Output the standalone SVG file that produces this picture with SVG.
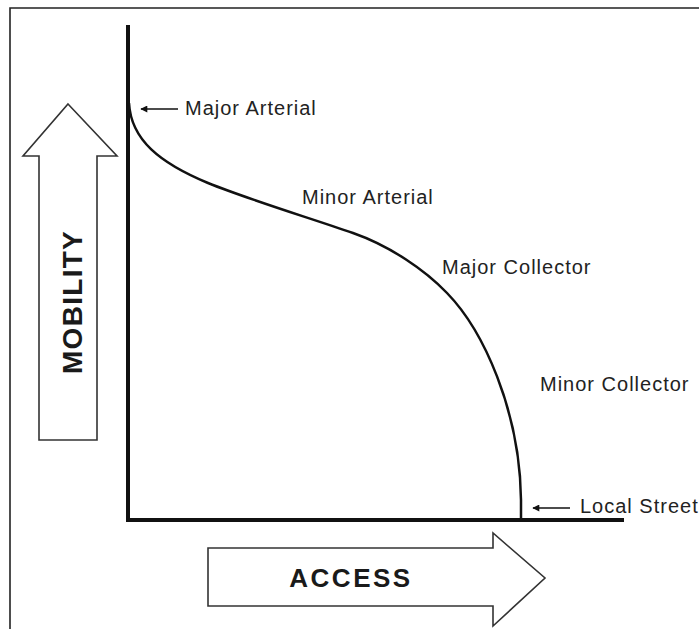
<svg xmlns="http://www.w3.org/2000/svg" width="699" height="629" viewBox="0 0 699 629">
<style>
.lbl{font-family:"Liberation Sans",Arial,sans-serif;font-size:20px;letter-spacing:1px;fill:#222}
.big{font-family:"Liberation Sans",Arial,sans-serif;font-weight:bold;fill:#1a1a1a}
.bigarrow{fill:#fff;stroke:#333;stroke-width:1.6;stroke-linejoin:miter}
.axis{stroke:#111;stroke-width:4;fill:none}
.curve{stroke:#111;stroke-width:2.5;fill:none}
.ptr{stroke:#111;stroke-width:1.6;fill:none}
</style>
<defs>
<marker id="ah" viewBox="0 0 10 10" refX="9" refY="5" markerWidth="9" markerHeight="7" markerUnits="userSpaceOnUse" orient="auto">
<path d="M0,0 L10,5 L0,10 Z" fill="#111"/>
</marker>
</defs>
<rect width="699" height="629" fill="#fff"/>
<g id="frame">
<path d="M10,629 L10,8 L699,8" fill="none" stroke="#222" stroke-width="1.6"/>
</g>
<g id="mobility">
<polygon class="bigarrow" points="68,104 117,156 97,156 97,440 39,440 39,156 23,156"/>
<text class="big" transform="translate(82,302) rotate(-90)" text-anchor="middle" font-size="28" letter-spacing="1.3">MOBILITY</text>
</g>
<g id="access">
<polygon class="bigarrow" points="208,548 493,548 493,533 545,578 493,626 493,606 208,606"/>
<text class="big" x="351" y="587" text-anchor="middle" font-size="26" letter-spacing="2.5">ACCESS</text>
</g>
<g id="axes">
<path class="axis" d="M128,25 L128,520 L624,520"/>
</g>
<g id="connectors">
<path class="curve" d="M129,103 C131,140 160,163 208,183 C250,200 310,218 353,233 C390,246 425,270 447,293 C483,330 520,410 521,500 L521,520"/>
<line class="ptr" x1="178" y1="109" x2="141" y2="109" marker-end="url(#ah)"/>
<line class="ptr" x1="570" y1="508" x2="533" y2="508" marker-end="url(#ah)"/>
</g>
<g id="major-arterial"><text class="lbl" x="185" y="115">Major Arterial</text></g>
<g id="minor-arterial"><text class="lbl" x="302" y="204">Minor Arterial</text></g>
<g id="major-collector"><text class="lbl" x="442" y="274">Major Collector</text></g>
<g id="minor-collector"><text class="lbl" x="540" y="391">Minor Collector</text></g>
<g id="local-street"><text class="lbl" x="580" y="513">Local Street</text></g>
</svg>
